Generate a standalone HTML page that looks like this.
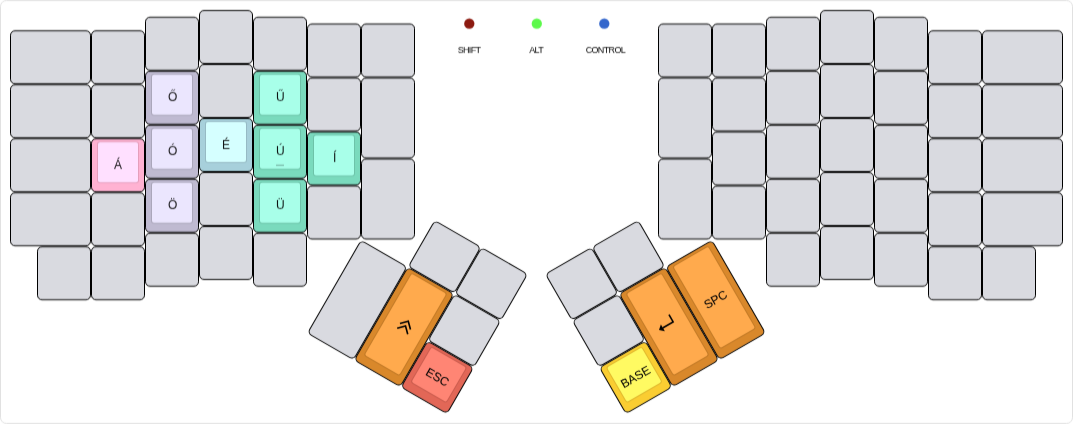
<!DOCTYPE html>
<html lang="hu">
<head>
<meta charset="utf-8">
<title>ErgoDox – Hungarian layer</title>
<style>
  html, body { margin: 0; padding: 0; background: #fff; }
  body { width: 1073px; height: 424px; overflow: hidden; }
  svg { display: block; }
  .kb { stroke: #000; stroke-width: 1; }
  .ke { fill: rgba(0,0,0,.1); }
  .kl { font-family: "Liberation Sans", Arial, Helvetica, sans-serif; font-size: 12px; text-anchor: middle; fill: #000; fill-opacity: .92; }
  .kr { fill-opacity: 1; stroke: #000; stroke-width: .06px; }
  .ll { font-family: "Liberation Sans", Arial, Helvetica, sans-serif; font-size: 9px; letter-spacing: -0.65px; text-anchor: middle; fill: #000; }
  .ic { fill: none; stroke: #000; stroke-width: 1.6; }
  .ic2 { fill: none; stroke: #000; stroke-width: 1.6; }
</style>
</head>
<body>
<svg width="1073" height="424" viewBox="0 0 1073 424">
  <defs>
    <filter id="vb" x="0" y="0" width="1073" height="424" filterUnits="userSpaceOnUse" color-interpolation-filters="sRGB">
      <feConvolveMatrix order="1 3" kernelMatrix="0.17 0.66 0.17" edgeMode="duplicate" preserveAlpha="true"/>
    </filter>
    <filter id="id" x="0" y="0" width="1073" height="424" filterUnits="userSpaceOnUse" color-interpolation-filters="sRGB">
      <feConvolveMatrix order="1 3" kernelMatrix="0.1 0.8 0.1" edgeMode="none" preserveAlpha="false"/>
    </filter>
  </defs>
  <g filter="url(#vb)">
  <rect x="0" y="0" width="1073" height="424" fill="#fff"/>
  <rect x="0.5" y="0.5" width="1072" height="423" rx="6" fill="#fff" stroke="#e1e1e1"/>
  <circle cx="469.3" cy="23.7" r="5.15" fill="#8c1a10"/>
  <text class="ll" x="469" y="52.8">SHIFT</text>
  <circle cx="536.8" cy="23.7" r="5.15" fill="#5cf94a"/>
  <text class="ll" x="536.1" y="52.8">ALT</text>
  <circle cx="604.3" cy="23.7" r="5.15" fill="#3366cc"/>
  <text class="ll" x="605.4" y="52.8">CONTROL</text>
  <rect class="kb" x="199.5" y="10.5" width="53" height="53" rx="4.5" fill="#d9dae0"/>
  <rect class="kb" x="820.5" y="10.5" width="53" height="53" rx="4.5" fill="#d9dae0"/>
  <rect class="kb" x="145.5" y="17.25" width="53" height="53" rx="4.5" fill="#d9dae0"/>
  <rect class="kb" x="253.5" y="17.25" width="53" height="53" rx="4.5" fill="#d9dae0"/>
  <rect class="kb" x="766.5" y="17.25" width="53" height="53" rx="4.5" fill="#d9dae0"/>
  <rect class="kb" x="874.5" y="17.25" width="53" height="53" rx="4.5" fill="#d9dae0"/>
  <rect class="kb" x="199.5" y="64.5" width="53" height="53" rx="4.5" fill="#d9dae0"/>
  <rect class="kb" x="820.5" y="64.5" width="53" height="53" rx="4.5" fill="#d9dae0"/>
  <rect class="kb" x="145.5" y="71.25" width="53" height="53" rx="4.5" fill="#bfbad1"/>
  <rect class="ke" x="151" y="73.75" width="42" height="42" rx="3"/>
  <rect x="152" y="74.75" width="40" height="40" rx="2" fill="#ebe6fe"/>
  <text class="kl" x="172.55" y="101.45">Ő</text>
  <rect class="kb" x="253.5" y="71.25" width="53" height="53" rx="4.5" fill="#7adabd"/>
  <rect class="ke" x="259" y="73.75" width="42" height="42" rx="3"/>
  <rect x="260" y="74.75" width="40" height="40" rx="2" fill="#a8ffe9"/>
  <text class="kl" x="280.38" y="101.45">Ű</text>
  <rect class="kb" x="766.5" y="71.25" width="53" height="53" rx="4.5" fill="#d9dae0"/>
  <rect class="kb" x="874.5" y="71.25" width="53" height="53" rx="4.5" fill="#d9dae0"/>
  <rect class="kb" x="199.5" y="118.5" width="53" height="53" rx="4.5" fill="#a7d0db"/>
  <rect class="ke" x="205" y="121" width="42" height="42" rx="3"/>
  <rect x="206" y="122" width="40" height="40" rx="2" fill="#d5ffff"/>
  <text class="kl" x="226.05" y="148.7">É</text>
  <rect class="kb" x="820.5" y="118.5" width="53" height="53" rx="4.5" fill="#d9dae0"/>
  <rect class="kb" x="145.5" y="125.25" width="53" height="53" rx="4.5" fill="#bfbad1"/>
  <rect class="ke" x="151" y="127.75" width="42" height="42" rx="3"/>
  <rect x="152" y="128.75" width="40" height="40" rx="2" fill="#ebe6fe"/>
  <text class="kl" x="172.55" y="155.45">Ó</text>
  <rect class="kb" x="253.5" y="125.25" width="53" height="53" rx="4.5" fill="#7adabd"/>
  <rect class="ke" x="259" y="127.75" width="42" height="42" rx="3"/>
  <rect x="260" y="128.75" width="40" height="40" rx="2" fill="#a8ffe9"/>
  <text class="kl" x="280.38" y="155.45">Ú</text>
  <rect x="276" y="164.75" width="8" height="1" fill="#000" opacity=".36"/>
  <rect class="kb" x="766.5" y="125.25" width="53" height="53" rx="4.5" fill="#d9dae0"/>
  <rect class="kb" x="874.5" y="125.25" width="53" height="53" rx="4.5" fill="#d9dae0"/>
  <rect class="kb" x="199.5" y="172.5" width="53" height="53" rx="4.5" fill="#d9dae0"/>
  <rect class="kb" x="820.5" y="172.5" width="53" height="53" rx="4.5" fill="#d9dae0"/>
  <rect class="kb" x="145.5" y="179.25" width="53" height="53" rx="4.5" fill="#bfbad1"/>
  <rect class="ke" x="151" y="181.75" width="42" height="42" rx="3"/>
  <rect x="152" y="182.75" width="40" height="40" rx="2" fill="#ebe6fe"/>
  <text class="kl" x="172.55" y="209.45">Ö</text>
  <rect class="kb" x="253.5" y="179.25" width="53" height="53" rx="4.5" fill="#7adabd"/>
  <rect class="ke" x="259" y="181.75" width="42" height="42" rx="3"/>
  <rect x="260" y="182.75" width="40" height="40" rx="2" fill="#a8ffe9"/>
  <text class="kl" x="280.38" y="209.45">Ü</text>
  <rect class="kb" x="766.5" y="179.25" width="53" height="53" rx="4.5" fill="#d9dae0"/>
  <rect class="kb" x="874.5" y="179.25" width="53" height="53" rx="4.5" fill="#d9dae0"/>
  <rect class="kb" x="199.5" y="226.5" width="53" height="53" rx="4.5" fill="#d9dae0"/>
  <rect class="kb" x="820.5" y="226.5" width="53" height="53" rx="4.5" fill="#d9dae0"/>
  <rect class="kb" x="145.5" y="233.25" width="53" height="53" rx="4.5" fill="#d9dae0"/>
  <rect class="kb" x="253.5" y="233.25" width="53" height="53" rx="4.5" fill="#d9dae0"/>
  <rect class="kb" x="766.5" y="233.25" width="53" height="53" rx="4.5" fill="#d9dae0"/>
  <rect class="kb" x="874.5" y="233.25" width="53" height="53" rx="4.5" fill="#d9dae0"/>
  <rect class="kb" x="307.5" y="24" width="53" height="53" rx="4.5" fill="#d9dae0"/>
  <rect class="kb" x="712.5" y="24" width="53" height="53" rx="4.5" fill="#d9dae0"/>
  <rect class="kb" x="10.5" y="30.75" width="80" height="53" rx="4.5" fill="#d9dae0"/>
  <rect class="kb" x="91.5" y="30.75" width="53" height="53" rx="4.5" fill="#d9dae0"/>
  <rect class="kb" x="928.5" y="30.75" width="53" height="53" rx="4.5" fill="#d9dae0"/>
  <rect class="kb" x="982.5" y="30.75" width="80" height="53" rx="4.5" fill="#d9dae0"/>
  <rect class="kb" x="307.5" y="78" width="53" height="53" rx="4.5" fill="#d9dae0"/>
  <rect class="kb" x="712.5" y="78" width="53" height="53" rx="4.5" fill="#d9dae0"/>
  <rect class="kb" x="10.5" y="84.75" width="80" height="53" rx="4.5" fill="#d9dae0"/>
  <rect class="kb" x="91.5" y="84.75" width="53" height="53" rx="4.5" fill="#d9dae0"/>
  <rect class="kb" x="928.5" y="84.75" width="53" height="53" rx="4.5" fill="#d9dae0"/>
  <rect class="kb" x="982.5" y="84.75" width="80" height="53" rx="4.5" fill="#d9dae0"/>
  <rect class="kb" x="307.5" y="132" width="53" height="53" rx="4.5" fill="#7adabd"/>
  <rect class="ke" x="313" y="134.5" width="42" height="42" rx="3"/>
  <rect x="314" y="135.5" width="40" height="40" rx="2" fill="#a8ffe9"/>
  <text class="kl" x="334.55" y="162.2">Í</text>
  <rect class="kb" x="712.5" y="132" width="53" height="53" rx="4.5" fill="#d9dae0"/>
  <rect class="kb" x="10.5" y="138.75" width="80" height="53" rx="4.5" fill="#d9dae0"/>
  <rect class="kb" x="91.5" y="138.75" width="53" height="53" rx="4.5" fill="#ffb2d2"/>
  <rect class="ke" x="97" y="141.25" width="42" height="42" rx="3"/>
  <rect x="98" y="142.25" width="40" height="40" rx="2" fill="#ffe0ff"/>
  <text class="kl" x="118" y="168.95">Á</text>
  <rect class="kb" x="928.5" y="138.75" width="53" height="53" rx="4.5" fill="#d9dae0"/>
  <rect class="kb" x="982.5" y="138.75" width="80" height="53" rx="4.5" fill="#d9dae0"/>
  <rect class="kb" x="307.5" y="186" width="53" height="53" rx="4.5" fill="#d9dae0"/>
  <rect class="kb" x="712.5" y="186" width="53" height="53" rx="4.5" fill="#d9dae0"/>
  <rect class="kb" x="10.5" y="192.75" width="80" height="53" rx="4.5" fill="#d9dae0"/>
  <rect class="kb" x="91.5" y="192.75" width="53" height="53" rx="4.5" fill="#d9dae0"/>
  <rect class="kb" x="928.5" y="192.75" width="53" height="53" rx="4.5" fill="#d9dae0"/>
  <rect class="kb" x="982.5" y="192.75" width="80" height="53" rx="4.5" fill="#d9dae0"/>
  <rect class="kb" x="361.5" y="24" width="53" height="53" rx="4.5" fill="#d9dae0"/>
  <rect class="kb" x="658.5" y="24" width="53" height="53" rx="4.5" fill="#d9dae0"/>
  <rect class="kb" x="361.5" y="78" width="53" height="80" rx="4.5" fill="#d9dae0"/>
  <rect class="kb" x="658.5" y="78" width="53" height="80" rx="4.5" fill="#d9dae0"/>
  <rect class="kb" x="361.5" y="159" width="53" height="80" rx="4.5" fill="#d9dae0"/>
  <rect class="kb" x="658.5" y="159" width="53" height="80" rx="4.5" fill="#d9dae0"/>
  <rect class="kb" x="37.5" y="246.75" width="53" height="53" rx="4.5" fill="#d9dae0"/>
  <rect class="kb" x="91.5" y="246.75" width="53" height="53" rx="4.5" fill="#d9dae0"/>
  <rect class="kb" x="928.5" y="246.75" width="53" height="53" rx="4.5" fill="#d9dae0"/>
  <rect class="kb" x="982.5" y="246.75" width="53" height="53" rx="4.5" fill="#d9dae0"/>
  </g>
  <g filter="url(#id)">
  <g transform="rotate(30 361 239.5)">
    <rect class="kb" x="415.5" y="186.25" width="53" height="53" rx="4.5" fill="#d9dae0"/>
    <rect class="kb" x="469.5" y="186.25" width="53" height="53" rx="4.5" fill="#d9dae0"/>
    <rect class="kb" x="361.5" y="240.25" width="53" height="107" rx="4.5" fill="#d9dae0"/>
    <rect class="kb" x="415.5" y="240.25" width="53" height="107" rx="4.5" fill="#d9882b"/>
    <rect class="ke" x="421" y="242.75" width="42" height="96" rx="3"/>
    <rect x="422" y="243.75" width="40" height="94" rx="2" fill="#ffaa4d"/>
    <path class="ic" d="M436.7 292.75l6.1 -6.1 6.1 6.1M436.7 298.25l6.1 -6.1 6.1 6.1"/>
    <rect class="kb" x="469.5" y="240.25" width="53" height="53" rx="4.5" fill="#d9dae0"/>
    <rect class="kb" x="469.5" y="294.25" width="53" height="53" rx="4.5" fill="#e26757"/>
    <rect class="ke" x="475" y="296.75" width="42" height="42" rx="3"/>
    <rect x="476" y="297.75" width="40" height="40" rx="2" fill="#ff8574"/>
    <text class="kl kr" x="496" y="324.45">ESC</text>
  </g>
  <g transform="rotate(-30 712 239.5)">
    <rect class="kb" x="550.5" y="186.25" width="53" height="53" rx="4.5" fill="#d9dae0"/>
    <rect class="kb" x="604.5" y="186.25" width="53" height="53" rx="4.5" fill="#d9dae0"/>
    <rect class="kb" x="550.5" y="240.25" width="53" height="53" rx="4.5" fill="#d9dae0"/>
    <rect class="kb" x="604.5" y="240.25" width="53" height="107" rx="4.5" fill="#d9882b"/>
    <rect class="ke" x="610" y="242.75" width="42" height="96" rx="3"/>
    <rect x="611" y="243.75" width="40" height="94" rx="2" fill="#ffaa4d"/>
    <path class="ic2" d="M637.15 283.05V291.45H625"/>
    <path d="M620.8 291.45L625.3 287.45V295.45z" fill="#000"/>
    <rect class="kb" x="658.5" y="240.25" width="53" height="107" rx="4.5" fill="#d9882b"/>
    <rect class="ke" x="664" y="242.75" width="42" height="96" rx="3"/>
    <rect x="665" y="243.75" width="40" height="94" rx="2" fill="#ffaa4d"/>
    <text class="kl kr" x="685" y="297.45">SPC</text>
    <rect class="kb" x="550.5" y="294.25" width="53" height="53" rx="4.5" fill="#facd32"/>
    <rect class="ke" x="556" y="296.75" width="42" height="42" rx="3"/>
    <rect x="557" y="297.75" width="40" height="40" rx="2" fill="#fffa62"/>
    <text class="kl kr" x="577" y="324.45">BASE</text>
  </g>
  </g>
</svg>
</body>
</html>
